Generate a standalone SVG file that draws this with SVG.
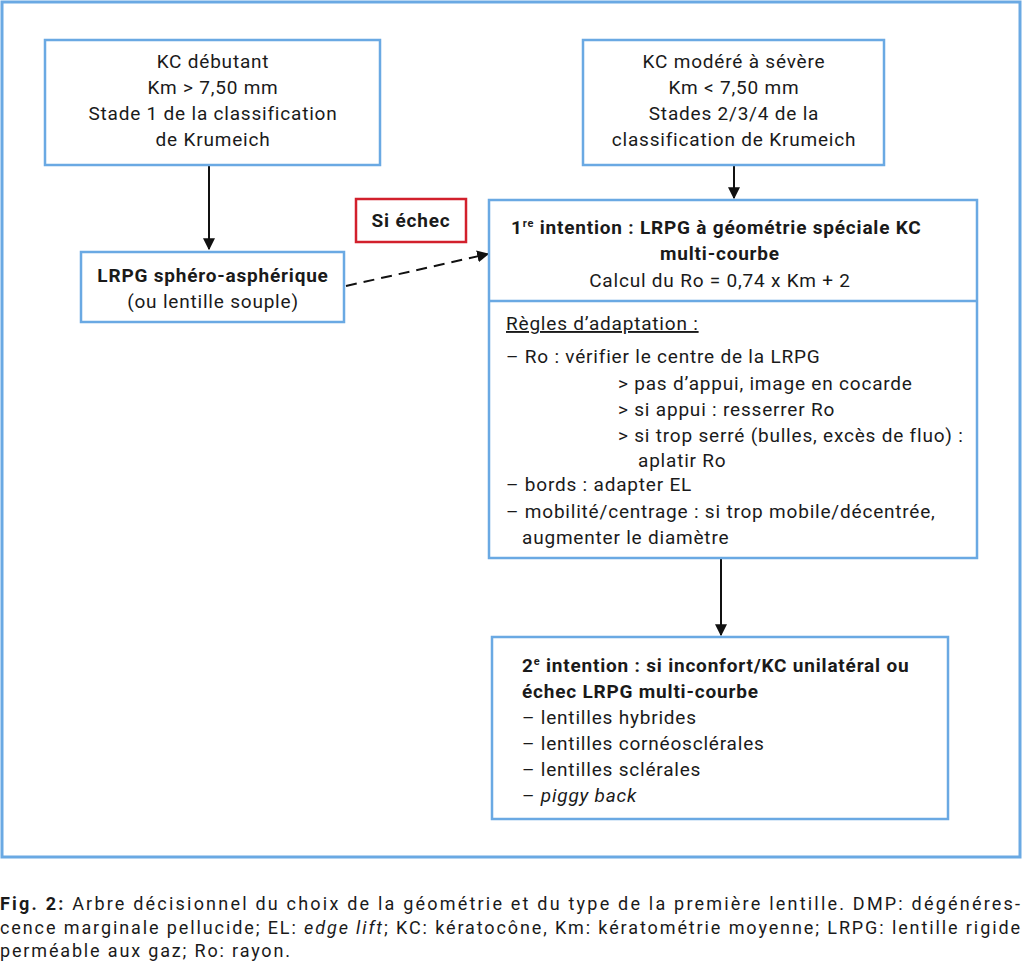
<svg xmlns="http://www.w3.org/2000/svg" width="1024" height="964" viewBox="0 0 1024 964">
<defs>
<style>
.box{fill:#fff;stroke:#6aa9e3;stroke-width:2.5}
.red{fill:#fff;stroke:#d2202c;stroke-width:2.5}
.t{font-family:Roboto,"Liberation Sans",sans-serif;font-size:19px;letter-spacing:0.8px;fill:#1a1a1a}
.c{text-anchor:middle}
.b{font-weight:bold}
.cap{font-family:Roboto,"Liberation Sans",sans-serif;font-size:18px;fill:#1a1a1a}
.ln{stroke:#111;stroke-width:2;fill:none}
</style>
<marker id="ah" viewBox="0 0 10 10" refX="9" refY="5" markerWidth="6" markerHeight="6" orient="auto" markerUnits="strokeWidth">
<path d="M0,0 L10,5 L0,10 z" fill="#111"/>
</marker>
</defs>
<rect width="1024" height="964" fill="#fff"/>
<rect x="2" y="2" width="1018" height="855" fill="none" stroke="#6aa9e3" stroke-width="3"/>

<g id="connectors">
<line class="ln" x1="209" y1="166" x2="209" y2="249" marker-end="url(#ah)"/>
<line class="ln" x1="734" y1="166" x2="734" y2="198" marker-end="url(#ah)"/>
<line class="ln" x1="721" y1="559" x2="721" y2="635" marker-end="url(#ah)"/>
<line class="ln" x1="346" y1="286" x2="488" y2="254" stroke-dasharray="11 7" marker-end="url(#ah)"/>
</g>

<g id="kc-debutant">
<rect class="box" x="45" y="40" width="335" height="125"/>
<text class="t c" x="213" y="68">KC débutant</text>
<text class="t c" x="213" y="94">Km &gt; 7,50 mm</text>
<text class="t c" x="213" y="120">Stade 1 de la classification</text>
<text class="t c" x="213" y="146">de Krumeich</text>
</g>

<g id="kc-modere">
<rect class="box" x="583" y="40" width="301" height="125"/>
<text class="t c" x="734" y="68">KC modéré à sévère</text>
<text class="t c" x="734" y="94">Km &lt; 7,50 mm</text>
<text class="t c" x="734" y="120">Stades 2/3/4 de la</text>
<text class="t c" x="734" y="146">classification de Krumeich</text>
</g>

<g id="lrpg-sphero">
<rect class="box" x="81" y="252" width="263" height="70"/>
<text class="t c b" x="213" y="282">LRPG sphéro-asphérique</text>
<text class="t c" x="213" y="308">(ou lentille souple)</text>
</g>

<g id="si-echec">
<rect class="red" x="356" y="199" width="110" height="43"/>
<text class="t c b" x="411" y="227">Si échec</text>
</g>

<g id="premiere-intention">
<rect class="box" x="489" y="200" width="488" height="358"/>
<line x1="489" y1="301" x2="977" y2="301" stroke="#6aa9e3" stroke-width="2.5"/>
<text class="t b" x="511" y="234">1<tspan font-size="11" dy="-7">re</tspan><tspan dy="7"> intention : LRPG à géométrie spéciale KC</tspan></text>
<text class="t c b" x="720" y="260">multi-courbe</text>
<text class="t c" x="720" y="287">Calcul du Ro = 0,74 x Km + 2</text>
<text class="t" x="506" y="330" text-decoration="underline">Règles d’adaptation :</text>
<text class="t" x="506" y="363">– Ro : vérifier le centre de la LRPG</text>
<text class="t" x="618" y="390">&gt; pas d’appui, image en cocarde</text>
<text class="t" x="618" y="416">&gt; si appui : resserrer Ro</text>
<text class="t" x="618" y="442">&gt; si trop serré (bulles, excès de fluo) :</text>
<text class="t" x="638" y="467">aplatir Ro</text>
<text class="t" x="506" y="491">– bords : adapter EL</text>
<text class="t" x="506" y="518">– mobilité/centrage : si trop mobile/décentrée,</text>
<text class="t" x="522" y="544">augmenter le diamètre</text>
</g>

<g id="deuxieme-intention">
<rect class="box" x="492" y="637" width="456" height="182"/>
<text class="t b" x="522" y="672">2<tspan font-size="11" dy="-7">e</tspan><tspan dy="7"> intention : si inconfort/KC unilatéral ou</tspan></text>
<text class="t b" x="522" y="698">échec LRPG multi-courbe</text>
<text class="t" x="522" y="724">– lentilles hybrides</text>
<text class="t" x="522" y="750">– lentilles cornéosclérales</text>
<text class="t" x="522" y="776">– lentilles sclérales</text>
<text class="t" x="522" y="802">– <tspan font-style="italic">piggy back</tspan></text>
</g>

<g id="caption">
<text class="cap" x="0" y="910" textLength="1020" lengthAdjust="spacing"><tspan font-weight="bold">Fig. 2:</tspan> Arbre décisionnel du choix de la géométrie et du type de la première lentille. DMP: dégénéres-</text>
<text class="cap" x="0" y="934" textLength="1020" lengthAdjust="spacing">cence marginale pellucide; EL: <tspan font-style="italic">edge lift</tspan>; KC: kératocône, Km: kératométrie moyenne; LRPG: lentille rigide</text>
<text class="cap" x="0" y="957" textLength="290" lengthAdjust="spacing">perméable aux gaz; Ro: rayon.</text>
</g>
</svg>
